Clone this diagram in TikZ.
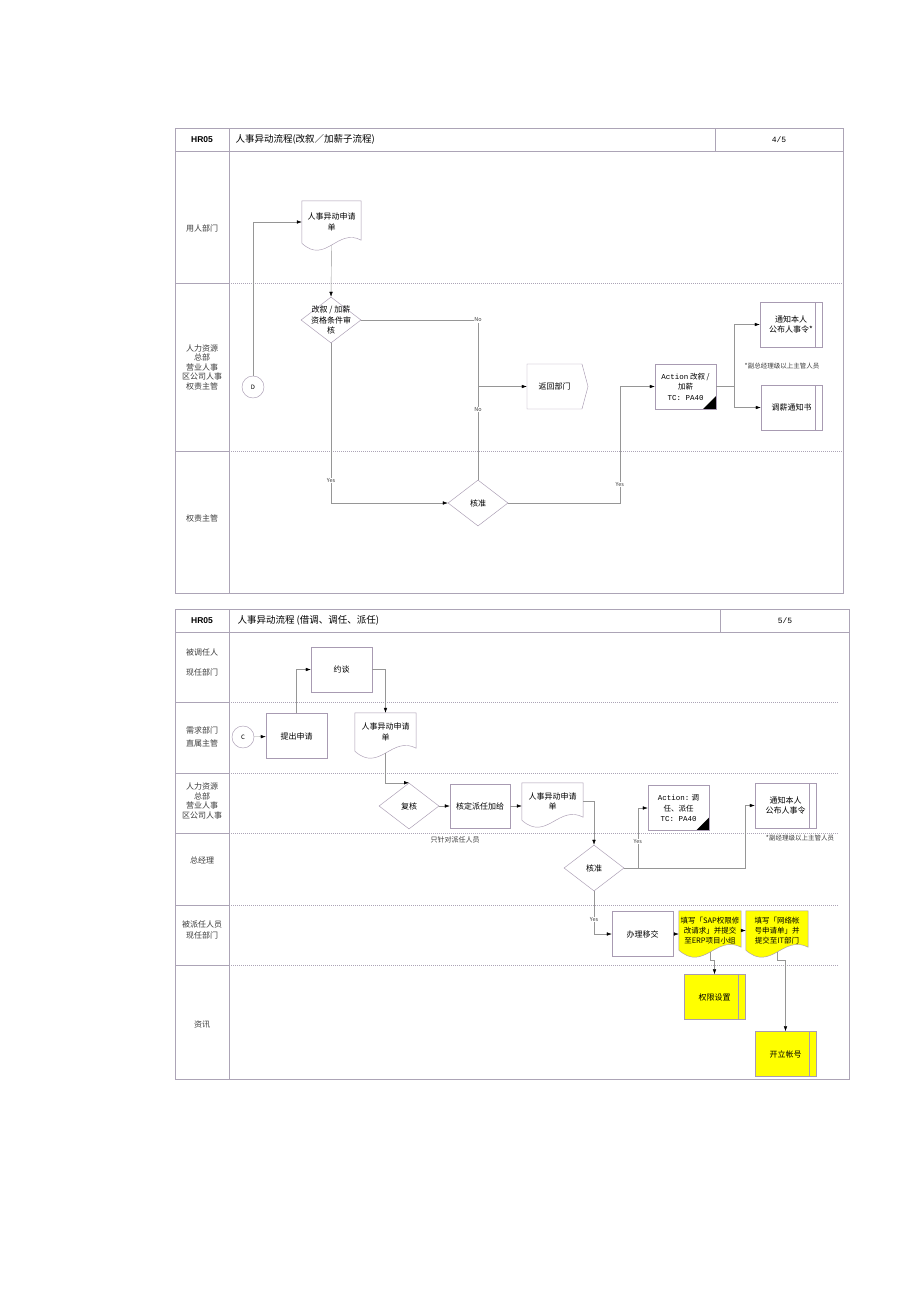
\documentclass[tikz,border=0pt]{standalone}
\usepackage{fontspec}
\setmainfont{Noto Sans CJK SC}
\setmonofont{Liberation Mono}
\newfontfamily\hdfont{Liberation Sans}
\usepackage{tikz}
\usetikzlibrary{arrows.meta, positioning, shapes.geometric, shapes.symbols, calc, backgrounds}

\definecolor{hr_frame}{RGB}{172, 164, 182}
\definecolor{hr_line}{RGB}{150, 150, 150}
\definecolor{hr_box}{RGB}{168, 155, 178}
\definecolor{hr_text}{RGB}{60, 60, 60}
\definecolor{hr_yellow}{RGB}{255, 255, 0}

\tikzset{
  frameline/.style={draw=hr_frame, line width=0.6pt},
  laneline/.style={draw=hr_frame, line width=0.5pt, dash pattern=on 1pt off 1pt},
  flow/.style={draw=hr_line, line width=0.4pt, -{Latex[length=5pt, width=3.5pt, color=black]}},
  link/.style={draw=hr_line, line width=0.4pt},
  boxtext/.style={font=\fontsize{8}{10.5}\selectfont, align=center},
  task/.style={boxtext, draw=hr_box, line width=0.45pt, minimum width=61pt, minimum height=45pt, inner sep=1pt},
  subtask/.style={task, path picture={\draw[hr_box, line width=0.45pt] ([xshift=-7pt]path picture bounding box.north east) -- ([xshift=-7pt]path picture bounding box.south east);}},
  actionbox/.style={task, font=\fontsize{7.5}{10.5}\selectfont, path picture={\fill[black] ([xshift=-13pt]path picture bounding box.south east) -- (path picture bounding box.south east) -- ([yshift=13pt]path picture bounding box.south east) -- cycle;}},
  backbox/.style={boxtext, signal, signal to=east, signal pointer angle=150, draw=hr_box, line width=0.45pt, minimum width=61pt, minimum height=45pt, inner sep=1pt},
  docnode/.style={boxtext, minimum width=61pt, minimum height=40pt, inner sep=1pt},
  decision/.style={diamond, draw=hr_box, line width=0.45pt, minimum width=60pt, minimum height=46pt, inner sep=0pt},
  connector/.style={circle, draw=hr_box, line width=0.45pt, minimum size=22pt, inner sep=0pt, font=\fontsize{6}{7}\selectfont},
  lanetext/.style={font=\fontsize{8}{9.5}\selectfont, align=center, text=hr_text},
  headtag/.style={font=\hdfont\bfseries\fontsize{8.5}{10}\selectfont},
  headtitle/.style={font=\fontsize{9.5}{11}\selectfont, anchor=west},
  pagetag/.style={font=\ttfamily\fontsize{8}{10}\selectfont},
  tag/.style={font=\fontsize{5.5}{6}\selectfont, fill=white, inner sep=0.5pt, text=hr_text},
  note/.style={font=\fontsize{6.5}{8}\selectfont, text=hr_text}
}

% document symbol with wavy bottom, drawn behind the named node
\newcommand{\docshape}[2]{%
  \begin{scope}[on background layer]
    \draw[draw=hr_box, line width=0.45pt, fill=#2]
      (#1.north west) -- (#1.north east) -- ([yshift=3pt]#1.south east)
      .. controls ([xshift=6pt, yshift=16pt]#1.south) and ([xshift=-6pt, yshift=-22pt]#1.south)
      .. (#1.south west) -- cycle;
  \end{scope}}

\begin{document}
\begin{tikzpicture}[x=1pt, y=-1pt]
  \begin{scope}[on background layer]
    \fill[white] (0,0) rectangle (920,1301);
  \end{scope}
  \useasboundingbox (0,0) rectangle (920,1301);

  % ---------- HR05 4/5 ----------
  \draw[frameline] (175,128) rectangle (843,593);
  \draw[frameline] (175,151) -- (843,151);
  \draw[frameline] (229,128) -- (229,593);
  \draw[frameline] (715,128) -- (715,151);
  \foreach \y in {283,451} {
    \draw[frameline] (175,\y) -- (229,\y);
    \draw[laneline] (229,\y) -- (843,\y);
  }
  \node[headtag] (hr1) at (202,139.5) {HR05};
  \node[headtitle] (title1) at (232,139.5) {人事异动流程(改叙／加薪子流程)};
  \node[pagetag] (page1) at (779,139.5) {4/5};

  \node[lanetext] (lane11) at (202,228) {用人部门};
  \node[lanetext] (lane12) at (202,367) {人力资源\\总部\\营业人事\\区公司人事\\权责主管};
  \node[lanetext] (lane13) at (202,518) {权责主管};

  \node[connector] (d1) at (253,387) {D};
  \node[docnode, minimum width=59pt, minimum height=42pt] (req1) at (331.5,222) {人事异动申请\\单};
  \docshape{req1}{white}
  \node[decision, label={[boxtext]center:{改叙 / 加薪\\资格条件审\\核}}] (chk1) at (331,320) {};
  \node[backbox] (back1) at (554.5,386.5) {返回部门};
  \node[actionbox] (act1) at (685.5,386.5) {{\ttfamily Action} 改叙 /\\加薪\\{\ttfamily TC: PA40}};
  \node[subtask, minimum width=62pt] (notify1) at (791,324.5) {通知本人\\公布人事令*};
  \node[subtask] (pay1) at (791.5,407.5) {调薪通知书};
  \node[note] (vip1) at (782,366) {*副总经理级以上主管人员};
  \node[decision, label={[boxtext]center:核准}] (ok1) at (478,503) {};

  \draw[flow] (d1.north) |- (req1.west);
  \draw[flow] ([yshift=-2pt]req1.south) -- (chk1.north);
  \draw[link] (chk1.east) -| node[tag, pos=0.5] {No} node[tag, pos=0.78] {No} (ok1.north);
  \draw[flow] (ok1.north |- back1.west) -- (back1.west);
  \draw[flow] (chk1.south) |- node[tag, pos=0.43] {Yes} (ok1.west);
  \draw[flow] (ok1.east) -| node[tag, pos=0.58] {Yes} ([xshift=-35pt]act1.west) -- (act1.west);
  \draw[flow] (act1.east) -- ++(18,0) |- (notify1.west);
  \draw[flow] (act1.east) -- ++(18,0) |- (pay1.west);

  % ---------- HR05 5/5 ----------
  \draw[frameline] (175,609) rectangle (849,1079);
  \draw[frameline] (175,632) -- (849,632);
  \draw[frameline] (229,609) -- (229,1079);
  \draw[frameline] (720,609) -- (720,632);
  \foreach \y in {702,773,833,905,965} {
    \draw[frameline] (175,\y) -- (229,\y);
    \draw[laneline] (229,\y) -- (838,\y);
  }
  \node[headtag] (hr2) at (202,620.5) {HR05};
  \node[headtitle] (title2) at (234,620.5) {人事异动流程 (借调、调任、派任)};
  \node[pagetag] (page2) at (785,620.5) {5/5};

  \node[lanetext, font=\fontsize{8}{20}\selectfont] (lane21) at (202,662) {被调任人\\现任部门};
  \node[lanetext, font=\fontsize{8}{13}\selectfont] (lane22) at (202,737) {需求部门\\直属主管};
  \node[lanetext] (lane23) at (202,801) {人力资源\\总部\\营业人事\\区公司人事};
  \node[lanetext] (lane24) at (202,860) {总经理};
  \node[lanetext, font=\fontsize{8}{11}\selectfont] (lane25) at (202,930) {被派任人员\\现任部门};
  \node[lanetext] (lane26) at (202,1025) {资讯};

  \node[connector] (c2) at (243,737) {C};
  \node[task] (apply2) at (296.5,736) {提出申请};
  \node[task] (talk2) at (341.5,669.5) {约谈};
  \node[docnode, minimum height=38pt] (req2) at (385.5,732) {人事异动申请\\单};
  \docshape{req2}{white}
  \node[decision, label={[boxtext]center:复核}] (rev2) at (409,806) {};
  \node[task, minimum width=60pt, minimum height=44pt] (fix2) at (480,806) {核定派任加给};
  \node[docnode, minimum height=37pt] (req3) at (552.5,801.5) {人事异动申请\\单};
  \docshape{req3}{white}
  \node[note, font=\fontsize{7}{8}\selectfont] (only2) at (455,840) {只针对派任人员};
  \node[decision, label={[boxtext]center:核准}] (ok2) at (594,868) {};
  \node[actionbox] (act2) at (678.5,808) {{\ttfamily Action:} 调\\任、派任\\{\ttfamily TC: PA40}};
  \node[subtask] (notify2) at (785.5,805.5) {通知本人\\公布人事令};
  \node[note] (vip2) at (800,838) {*副经理级以上主管人员};
  \node[task] (hand2) at (642.5,934) {办理移交};
  \node[docnode, minimum width=62pt, minimum height=39pt, font=\fontsize{7.5}{10}\selectfont] (sap2) at (710,930.5) {填写「SAP权限修\\改请求」并提交\\至ERP项目小组};
  \docshape{sap2}{hr_yellow}
  \node[docnode, minimum width=62pt, minimum height=39pt, font=\fontsize{7.5}{10}\selectfont] (net2) at (777,930.5) {填写「网络帐\\号申请单」并\\提交至IT部门};
  \docshape{net2}{hr_yellow}
  \node[subtask, fill=hr_yellow] (perm2) at (714.5,997) {权限设置};
  \node[subtask, fill=hr_yellow] (acct2) at (785.5,1054) {开立帐号};

  \draw[flow] (c2) -- (apply2);
  \draw[flow] (apply2.north) |- (talk2.west);
  \draw[flow] (talk2.east) -| (req2.north);
  \draw[flow] ([yshift=-2pt]req2.south) |- (rev2.north);
  \draw[flow] (rev2.east) -- (rev2.east -| fix2.west);
  \draw[flow] (fix2.east) -- (fix2.east -| req3.west);
  \draw[flow] (req3.east) -| (ok2.north);
  \draw[flow] (ok2.east) -| node[tag, pos=0.72] {Yes} ([xshift=-10pt]act2.west) -- (act2.west);
  \draw[flow] (ok2.east) -| ([xshift=-10pt]notify2.west) -- (notify2.west);
  \draw[flow] (ok2.south) |- node[tag, pos=0.33] {Yes} (hand2.west);
  \draw[flow] (hand2.east) -- (hand2.east -| sap2.west);
  \draw[flow] (sap2) -- (net2);
  \draw[flow] ([yshift=-2pt]sap2.south) -- ++(0,8) -| (perm2.north);
  \draw[flow] ([yshift=-2pt]net2.south) -- ++(0,8) -| (acct2.north);
\end{tikzpicture}
\end{document}
